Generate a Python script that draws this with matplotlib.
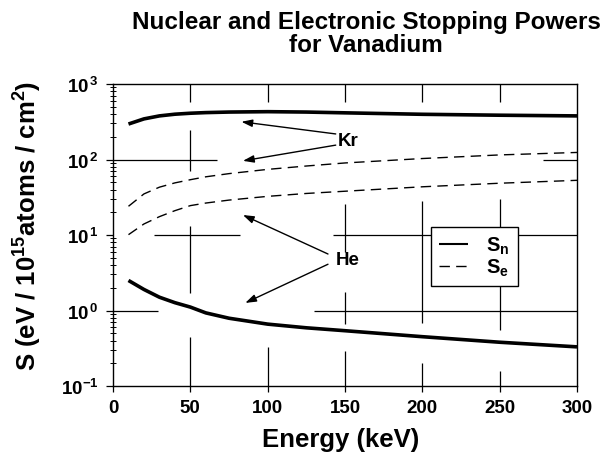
import matplotlib
matplotlib.use("Agg")
import matplotlib.pyplot as plt

# ---------------- data ----------------
energy = [10, 20, 30, 40, 50, 60, 75, 100, 125, 150, 200, 250, 300]      # keV
kr_sn = [295, 345, 378, 398, 410, 418, 425, 430, 425, 415, 397, 386, 378]
kr_se = [24, 35, 43, 49, 54, 59, 65, 74, 82, 90, 103, 115, 124]
he_se = [10.1, 14, 17.5, 21, 24.5, 26.5, 29, 32.5, 35.5, 38, 43.5, 48.5, 53]
he_sn = [2.5, 1.9, 1.5, 1.27, 1.11, 0.93, 0.79, 0.66, 0.59, 0.54, 0.45, 0.38, 0.33]

x_ticks = [0, 50, 100, 150, 200, 250, 300]
y_ticks = [0.1, 1, 10, 100, 1000]
y_tick_labels = [r"10$^{\mathrm{-1}}$", r"10$^{\,0}$", r"10$^{\,1}$", r"10$^{\,2}$", r"10$^{\,3}$"]

title = "Nuclear and Electronic Stopping Powers\nfor Vanadium"
x_label = "Energy (keV)"
y_label = r"S (eV / 10$^{15}$atoms / cm$^{2}$)"
legend_labels = [r"$\mathrm{S_n}$", r"$\mathrm{S_e}$"]

# broken crosshair grid of the original figure: (x, y_low, y_high) and (y, x_low, x_high)
grid_v = [(50, 575, 1000), (100, 575, 1000), (150, 575, 1000), (200, 575, 1000), (250, 575, 1000),
          (50, 71, 245), (50, 1.7, 13.3), (50, 0.1, 0.45),
          (100, 0.1, 0.33),
          (150, 6.0, 25.6), (150, 0.66, 1.76), (150, 0.1, 0.29),
          (200, 0.68, 28), (200, 0.1, 0.2),
          (250, 0.55, 30), (250, 0.1, 0.16)]
grid_h = [(100, 0, 67), (100, 278, 300),
          (10, 26.6, 82), (10, 142, 300),
          (1, 0, 29), (1, 130, 300)]

# annotation labels and arrows: ((tip), (tail))
kr_label_pos = (152, 176)
kr_arrows = [((83, 316), (144, 218)), ((84, 96), (144, 155))]
he_label_pos = (151.6, 4.7)
he_arrows = [((84, 18.4), (139, 5.6)), ((85.5, 1.26), (139, 4.1))]

# ---------------- style ----------------
FONT = "Liberation Sans"
plt.rcParams["font.family"] = [FONT, "DejaVu Sans"]
plt.rcParams["font.weight"] = "bold"
plt.rcParams["mathtext.fontset"] = "custom"
plt.rcParams["mathtext.rm"] = FONT + ":bold"
plt.rcParams["mathtext.it"] = FONT + ":bold"
plt.rcParams["mathtext.bf"] = FONT + ":bold"
plt.rcParams["mathtext.default"] = "regular"
plt.rcParams["lines.scale_dashes"] = False

fig = plt.figure(figsize=(6.05, 4.56), dpi=100)
ax = fig.add_axes([0.1868, 0.1513, 0.7669, 0.6623])

ax.set_yscale("log")
ax.set_xlim(0, 300)
ax.set_ylim(0.1, 1000)

# grid fragments
for x, y0, y1 in grid_v:
    ax.vlines(x, y0, y1, color="black", lw=0.9, zorder=1)
for y, x0, x1 in grid_h:
    ax.hlines(y, x0, x1, color="black", lw=0.9, zorder=1)

# curves
ln_sn, = ax.plot(energy, kr_sn, color="black", lw=2.6, solid_capstyle="butt", zorder=3)
ax.plot(energy, he_sn, color="black", lw=2.6, solid_capstyle="butt", zorder=3)
ln_se, = ax.plot(energy, kr_se, color="black", lw=1.0, dashes=(7.5, 4.5), zorder=3)
ax.plot(energy, he_se, color="black", lw=1.0, dashes=(7.5, 4.5), zorder=3)

# annotations
arrow_kw = dict(arrowstyle="-|>,head_length=0.65,head_width=0.22", color="black",
                lw=1.0, shrinkA=0, shrinkB=0)
ax.text(*kr_label_pos, "Kr", fontsize=13.5, fontweight="bold", ha="center", va="center")
for tip, tail in kr_arrows:
    ax.annotate("", xy=tip, xytext=tail, arrowprops=arrow_kw)
ax.text(*he_label_pos, "He", fontsize=13.5, fontweight="bold", ha="center", va="center")
for tip, tail in he_arrows:
    ax.annotate("", xy=tip, xytext=tail, arrowprops=arrow_kw)

# legend
leg = ax.legend([ln_sn, ln_se], legend_labels, loc="center",
                bbox_to_anchor=(0.779, 0.429), frameon=True, fancybox=False,
                edgecolor="black", framealpha=1, fontsize=14.5, handlelength=1.45,
                handletextpad=0.9, labelspacing=0.02, borderpad=0.4, borderaxespad=0)
leg.get_frame().set_linewidth(1.0)
leg.legend_handles[0].set_linewidth(1.5)
leg.set_zorder(5)

# ticks
ax.set_xticks(x_ticks)
ax.set_xticklabels([str(v) for v in x_ticks], fontsize=13.5, fontweight="bold")
ax.set_yticks(y_ticks)
ax.set_yticklabels(y_tick_labels, fontsize=13.5)
ax.tick_params(axis="x", which="both", direction="out", length=4, width=0.9, pad=5, top=False)
ax.tick_params(axis="y", which="major", direction="out", length=5, width=0.9, pad=5, right=False)
ax.tick_params(axis="y", which="minor", direction="inout", length=4, width=0.7, right=False)
ax.tick_params(axis="y", which="minor", labelleft=False)

for sp in ax.spines.values():
    sp.set_linewidth(1.0)

# labels
ax.set_xlabel(x_label, fontsize=18.5, fontweight="bold", va="center")
ax.xaxis.set_label_coords(0.49, -0.175)
ax.set_ylabel(y_label, fontsize=18.5, fontweight="bold", va="center")
ax.yaxis.set_label_coords(-0.183, 0.533)

fig.text(0.605, 0.925, title, fontsize=17.5, fontweight="bold", ha="center",
         va="center", multialignment="center", linespacing=1.0)

fig.savefig("out.png", dpi=100)
